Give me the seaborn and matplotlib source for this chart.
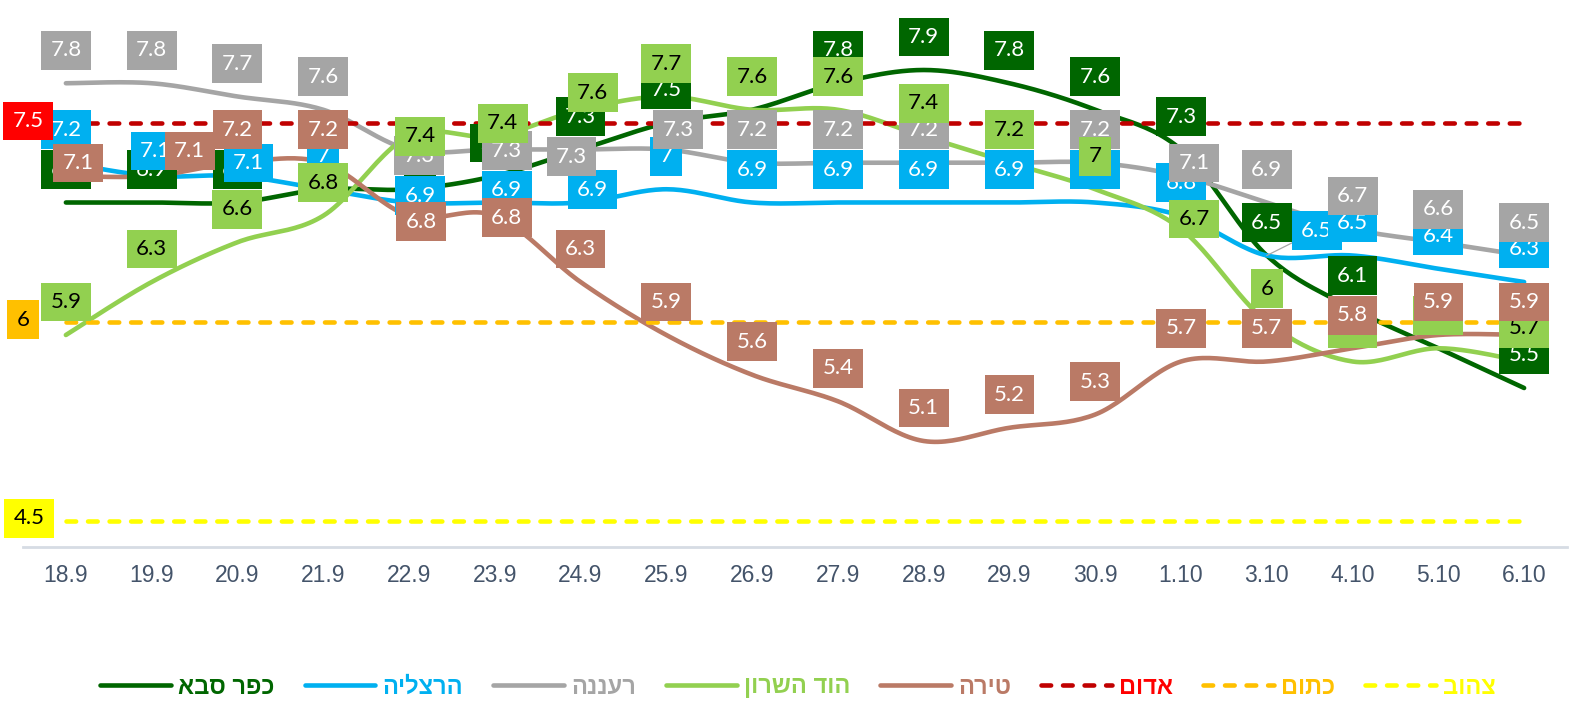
import numpy as np
import pandas as pd
import matplotlib
matplotlib.use("Agg")
import matplotlib.pyplot as plt
from matplotlib.lines import Line2D
import seaborn as sns

# ---------------------------------------------------------------
# data
# ---------------------------------------------------------------
dates = ["18.9", "19.9", "20.9", "21.9", "22.9", "23.9", "24.9", "25.9", "26.9",
         "27.9", "28.9", "29.9", "30.9", "1.10", "3.10", "4.10", "5.10", "6.10"]

kfar_saba = [6.9, 6.9, 6.9, 7.0, 7.0, 7.1, 7.3, 7.5, 7.6, 7.8, 7.9, 7.8, 7.6, 7.3, 6.5, 6.1, 5.8, 5.5]
herzliya = [7.2, 7.1, 7.1, 7.0, 6.9, 6.9, 6.9, 7.0, 6.9, 6.9, 6.9, 6.9, 6.9, 6.8, 6.5, 6.5, 6.4, 6.3]
raanana = [7.8, 7.8, 7.7, 7.6, 7.3, 7.3, 7.3, 7.3, 7.2, 7.2, 7.2, 7.2, 7.2, 7.1, 6.9, 6.7, 6.6, 6.5]
hod_hasharon = [5.9, 6.3, 6.6, 6.8, 7.4, 7.4, 7.6, 7.7, 7.6, 7.6, 7.4, 7.2, 7.0, 6.7, 6.0, 5.7, 5.8, 5.7]
tira = [7.1, 7.1, 7.2, 7.2, 6.8, 6.8, 6.3, 5.9, 5.6, 5.4, 5.1, 5.2, 5.3, 5.7, 5.7, 5.8, 5.9, 5.9]

cities = ["כפר סבא", "הרצליה", "רעננה", "הוד השרון", "טירה"]
city_values = [kfar_saba, herzliya, raanana, hod_hasharon, tira]

thresholds = ["אדום", "כתום", "צהוב"]
threshold_values = [7.5, 6.0, 4.5]

# ---------------------------------------------------------------
# styles
# ---------------------------------------------------------------
city_colors = ["#006600", "#00B0F0", "#A5A5A5", "#92D050", "#BA7A66"]
city_text = ["white", "white", "white", "black", "white"]
thr_line_colors = ["#C00000", "#FFC000", "#FFFF00"]
thr_box_colors = ["#FF0000", "#FFC000", "#FFFF00"]
thr_text = ["white", "black", "black"]
thr_legend_text = ["#FF0000", "#FFC000", "#FFFF00"]
thr_label_dx = [-38, -43, -37]     # px, label left of first point

# labels that were dragged by hand in the original: (series, point) -> (px right, px down)
nudge = {(4, 0): (12, 20), (1, 1): (4, 8), (4, 1): (38, 8), (1, 2): (11, 20),
         (0, 4): (11, 33), (1, 4): (11, 26), (2, 4): (10, 39), (3, 4): (11, 33), (4, 4): (12, 39),
         (1, 5): (12, 21), (2, 5): (12, 34), (3, 5): (8, 20), (4, 5): (12, 35),
         (1, 6): (12, 20), (2, 6): (-9, 40), (3, 6): (12, 16),
         (2, 7): (12, 13),
         (2, 13): (13, 20), (3, 13): (13, 23),
         (1, 14): (50, 8)}
leader = {(1, 14)}

PX = 0.72          # points per pixel at dpi 100
LW = 3.3
DASH = (2.1, 2.6)
LABEL_FONT = ["Lato", "DejaVu Sans"]
HEB_FONT = ["Liberation Sans", "DejaVu Sans"]


def smooth(vals, steps=24):
    # excel-like smoothed line (catmull-rom bezier through the points)
    y = np.asarray(vals, float)
    p = np.column_stack([np.arange(len(y), dtype=float), y])
    ext = np.vstack([p[0], p, p[-1]])
    t = np.linspace(0, 1, steps, endpoint=False)[:, None]
    out = []
    for i in range(len(p) - 1):
        p0, p1, p2, p3 = ext[i], ext[i + 1], ext[i + 2], ext[i + 3]
        c1 = p1 + (p2 - p0) / 6
        c2 = p2 - (p3 - p1) / 6
        out.append((1 - t) ** 3 * p1 + 3 * (1 - t) ** 2 * t * c1
                   + 3 * (1 - t) * t ** 2 * c2 + t ** 3 * p2)
    out.append(p[-1][None, :])
    return np.vstack(out)


frames = []
for name, vals in zip(cities, city_values):
    c = smooth(vals)
    frames.append(pd.DataFrame({"x": c[:, 0], "y": c[:, 1], "עיר": name}))
curves = pd.concat(frames, ignore_index=True)

sns.set_theme(style="white")
plt.rcParams["font.family"] = ["Liberation Sans", "DejaVu Sans"]

fig = plt.figure(figsize=(15.73, 7.09), dpi=100)
ax = fig.add_axes([23 / 1573, 1 - 547 / 709, 1544 / 1573, 530 / 709])

sns.lineplot(data=curves, x="x", y="y", hue="עיר", hue_order=cities,
             palette=city_colors, sort=False, estimator=None, lw=LW,
             solid_capstyle="round", legend=False, ax=ax, zorder=2)

n = len(dates)
for v, col in zip(threshold_values, thr_line_colors):
    ax.plot([0, n - 1], [v, v], color=col, lw=LW, ls=(0, DASH),
            dash_capstyle="round", zorder=3)

# data labels (boxes above the points)
for k, vals in enumerate(city_values):
    for i, v in enumerate(vals):
        dx, dy = nudge.get((k, i), (0, 0))
        arrow = None
        if (k, i) in leader:
            arrow = dict(arrowstyle="-", color="#A6A6A6", lw=0.9,
                         shrinkA=0, shrinkB=0)
        ax.annotate(f"{v:g}", (i, v), xytext=(dx * PX, (33 - dy) * PX),
                    textcoords="offset points", ha="center", va="center",
                    fontsize=16, family=LABEL_FONT, color=city_text[k],
                    bbox=dict(boxstyle="square,pad=0.42", fc=city_colors[k], ec="none"),
                    arrowprops=arrow, annotation_clip=False, zorder=10 + k)

for j, v in enumerate(threshold_values):
    ax.annotate(f"{v:g}", (0, v), xytext=(thr_label_dx[j] * PX, 2 * PX),
                textcoords="offset points", ha="center", va="center",
                fontsize=16, family=LABEL_FONT, color=thr_text[j],
                bbox=dict(boxstyle="square,pad=0.42", fc=thr_box_colors[j], ec="none"),
                annotation_clip=False, zorder=20 + j)

# axes
ax.set_xlim(-0.5, n - 0.5)
ax.set_ylim(4.3, 8.3)
ax.set_xticks(range(n))
ax.set_xticklabels(dates)
ax.set_xticks(np.arange(-0.5, n, 1.0), minor=True)
ax.set_yticks([])
ax.set_xlabel("")
ax.set_ylabel("")
for s in ["top", "left", "right"]:
    ax.spines[s].set_visible(False)
ax.spines["bottom"].set_color("#D6DCE4")
ax.spines["bottom"].set_linewidth(2)
ax.tick_params(axis="x", which="major", direction="in", length=3.6, width=1.2,
               color="#D6DCE4", pad=12.5, labelsize=16.5, labelcolor="#44546A")
ax.tick_params(axis="x", which="minor", direction="in", length=5, width=1.2,
               color="#D6DCE4")
for t in ax.get_xticklabels():
    t.set_family(["Liberation Sans", "DejaVu Sans"])

# legend (hebrew reversed for left-to-right drawing)
handles = [Line2D([], [], color=c, lw=LW, solid_capstyle="round") for c in city_colors]
handles += [Line2D([], [], color=c, lw=LW, ls=(0, DASH), dash_capstyle="round")
            for c in thr_line_colors]
labels = [s[::-1] for s in cities + thresholds]
leg = fig.legend(handles, labels, loc="center", bbox_to_anchor=(798 / 1573, 1 - 687 / 709),
                 ncol=8, frameon=False, handlelength=3.0, handletextpad=0.3,
                 columnspacing=1.27, prop=dict(family=HEB_FONT, weight="bold", size=17))
for txt, col in zip(leg.get_texts(), city_colors + thr_legend_text):
    txt.set_color(col)

fig.savefig("out.png", dpi=100)
